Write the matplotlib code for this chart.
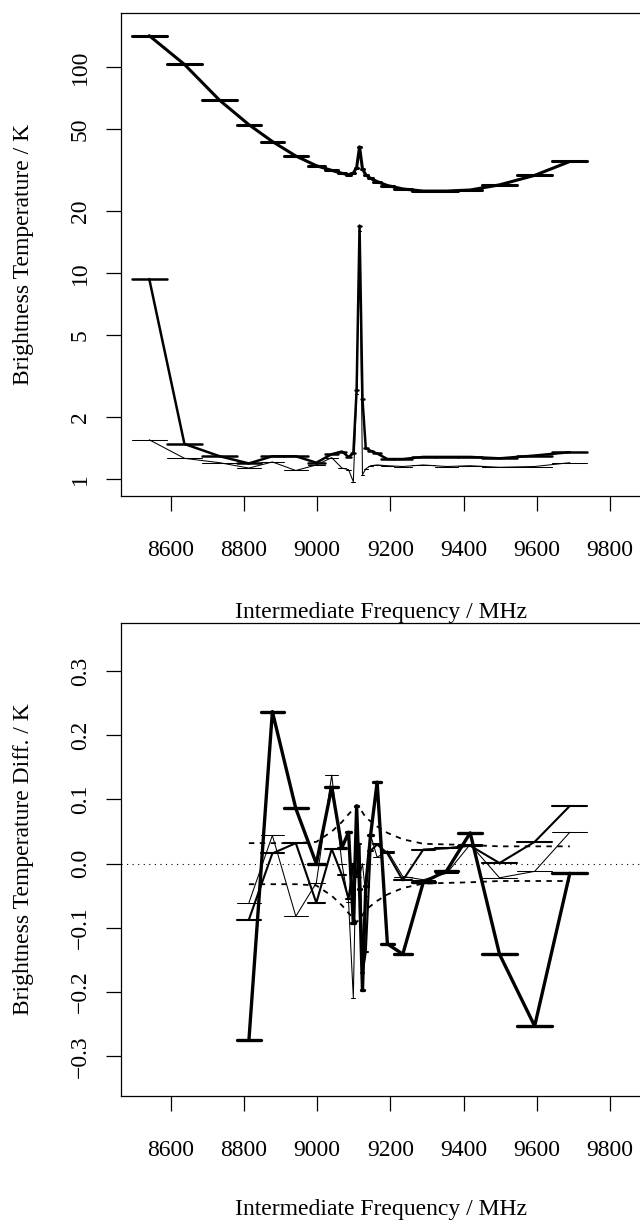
import numpy as np
import matplotlib
matplotlib.use("Agg")
import matplotlib.pyplot as plt

plt.rcParams['font.family'] = ['Liberation Serif', 'DejaVu Serif']
plt.rcParams['font.size'] = 17

# bin centres and widths (MHz)
freq = np.array([8542, 8638, 8734, 8814, 8878, 8942, 8998, 9040, 9068, 9086,
                 9099, 9108, 9116, 9124, 9133, 9146, 9164, 9192, 9234, 9290,
                 9354, 9418, 9498, 9594, 9690])
bin_width = np.array([96, 96, 96, 64, 64, 64, 48, 36, 20, 16,
                      10, 8, 8, 8, 10, 16, 20, 36, 48, 64,
                      64, 64, 96, 96, 96])

# upper panel: brightness temperatures (K)
t_total = [142, 103, 69, 52.5, 43.5, 37.0, 33.2, 31.5, 30.5, 30.0,
           30.6, 32.5, 41.0, 32.0, 30.0, 28.8, 27.8, 26.6, 25.6, 25.0,
           25.0, 25.3, 26.8, 29.8, 34.8]
t_line = [9.35, 1.48, 1.29, 1.19, 1.29, 1.29, 1.20, 1.32, 1.36, 1.28,
          1.33, 2.7, 17.0, 2.44, 1.41, 1.37, 1.33, 1.25, 1.25, 1.28,
          1.28, 1.28, 1.26, 1.30, 1.35]
t_thin = [1.55, 1.26, 1.20, 1.13, 1.21, 1.10, 1.17, 1.27, 1.13, 1.11,
          0.97, 2.6, 16.0, 1.05, 1.12, 1.16, 1.17, 1.16, 1.15, 1.17,
          1.15, 1.16, 1.14, 1.15, 1.20]

# lower panel: differences (K), bins from 8814 MHz on
diff_a = [-0.275, 0.237, 0.086, 0.000, 0.119, 0.025, 0.049, -0.093, 0.090, -0.040,
          -0.197, -0.035, 0.044, 0.127, -0.125, -0.141, -0.029, -0.011, 0.048, -0.141,
          -0.253, -0.015]
diff_b = [-0.087, 0.016, 0.032, -0.061, 0.023, -0.018, -0.055, 0.000, -0.020, 0.030,
          -0.171, -0.138, 0.020, 0.030, 0.016, -0.026, 0.022, 0.024, 0.028, 0.001,
          0.034, 0.090]
diff_c = [-0.061, 0.044, -0.082, -0.030, 0.138, 0.000, -0.060, -0.209, 0.060, -0.020,
          0.000, -0.050, 0.045, 0.010, 0.020, -0.020, -0.025, -0.015, 0.030, -0.022,
          -0.012, 0.049]
envelope = [0.032, 0.032, 0.032, 0.034, 0.050, 0.065, 0.077, 0.085, 0.091, 0.087,
            0.080, 0.072, 0.066, 0.058, 0.048, 0.038, 0.031, 0.030, 0.029, 0.027,
            0.027, 0.027]

xticks = [8600, 8800, 9000, 9200, 9400, 9600, 9800]
xlim = (8464, 9887)

W, H = 640, 1220
fig = plt.figure(figsize=(W / 100, H / 100), dpi=100)


def axes_px(left, top, right, bottom):
    return fig.add_axes([left / W, 1 - bottom / H, (right - left) / W, (bottom - top) / H])


def binned(ax, x, w, y, lw):
    ax.plot(x, y, color='black', lw=lw, solid_capstyle='round', solid_joinstyle='round')
    ax.hlines(y, x - w / 2, x + w / 2, color='black', lw=lw, capstyle='round')


def style(ax):
    ax.set_xlim(*xlim)
    ax.set_xticks(xticks)
    ax.set_xticklabels([str(t) for t in xticks])
    for s in ax.spines.values():
        s.set_linewidth(0.9)
    ax.tick_params(axis='x', length=11, width=0.9, pad=21)
    ax.tick_params(axis='y', length=11, width=0.9, pad=10.5)
    for lab in ax.get_yticklabels():
        lab.set_rotation(90)
        lab.set_va('center')
    ax.set_xlabel('Intermediate Frequency / MHz')
    ax.xaxis.label.set_va('center')


# upper panel
ax1 = axes_px(120.7, 13, 642, 496)
ax1.set_yscale('log')
binned(ax1, freq, bin_width, np.array(t_total), 2.2)
binned(ax1, freq, bin_width, np.array(t_line), 1.8)
binned(ax1, freq, bin_width, np.array(t_thin), 0.75)
ax1.set_ylim(0.827, 183)
ax1.set_yticks([1, 2, 5, 10, 20, 50, 100])
ax1.set_yticklabels(['1', '2', '5', '10', '20', '50', '100'])
ax1.minorticks_off()
style(ax1)
ax1.set_ylabel('Brightness Temperature / K')
ax1.xaxis.set_label_coords(0.5, -(612 - 496) / 483)
ax1.yaxis.set_label_coords(-(120.7 - 23) / 521.3, 0.5)
ax1.yaxis.label.set_va('center')

# lower panel
sel = freq >= 8800
f2, w2 = freq[sel], bin_width[sel]
ax2 = axes_px(120.7, 623, 642, 1096)
ax2.axhline(0, color='black', lw=0.8, ls=(0, (1, 4)))
env = np.array(envelope)
ax2.plot(f2, env, color='black', lw=1.3, ls=(0, (3, 3)))
ax2.plot(f2, -env, color='black', lw=1.3, ls=(0, (3, 3)))
binned(ax2, f2, w2, np.array(diff_c), 0.75)
binned(ax2, f2, w2, np.array(diff_b), 1.5)
binned(ax2, f2, w2, np.array(diff_a), 2.4)
ax2.set_ylim(-0.362, 0.375)
yt = [-0.3, -0.2, -0.1, 0.0, 0.1, 0.2, 0.3]
ax2.set_yticks(yt)
ax2.set_yticklabels(['\u22120.3', '\u22120.2', '\u22120.1', '0.0', '0.1', '0.2', '0.3'])
style(ax2)
ax2.set_ylabel('Brightness Temperature Diff. / K')
ax2.xaxis.set_label_coords(0.5, -(1210 - 1096) / 473)
ax2.yaxis.set_label_coords(-(120.7 - 23) / 521.3, 0.5)
ax2.yaxis.label.set_va('center')

fig.savefig('out.png', dpi=100)
